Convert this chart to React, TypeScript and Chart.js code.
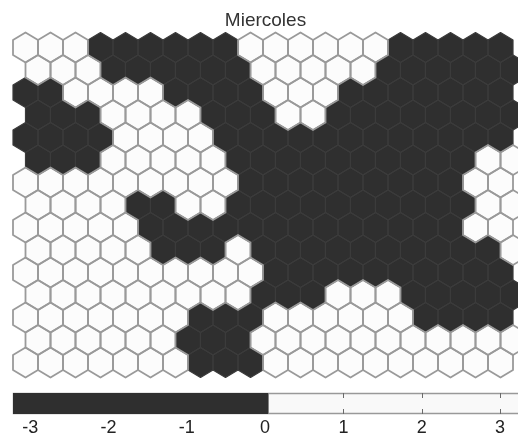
import React, { useEffect, useRef } from "react";
import { Chart, registerables } from "chart.js";

Chart.register(...registerables);

// ---------------- data ----------------
const TITLE = "Miercoles";
const N_COLS = 20;
// sign of the component value per map unit (row by row, odd rows are shifted right)
// -1 = negative (dark), 1 = positive (light)
const ROW_00 = [1, 1, 1, -1, -1, -1, -1, -1, -1, 1, 1, 1, 1, 1, 1, -1, -1, -1, -1, -1];
const ROW_01 = [1, 1, 1, -1, -1, -1, -1, -1, -1, 1, 1, 1, 1, 1, -1, -1, -1, -1, -1, -1];
const ROW_02 = [-1, -1, 1, 1, 1, 1, -1, -1, -1, -1, 1, 1, 1, -1, -1, -1, -1, -1, -1, -1];
const ROW_03 = [-1, -1, -1, 1, 1, 1, 1, -1, -1, -1, 1, 1, -1, -1, -1, -1, -1, -1, -1, -1];
const ROW_04 = [-1, -1, -1, -1, 1, 1, 1, 1, -1, -1, -1, -1, -1, -1, -1, -1, -1, -1, -1, -1];
const ROW_05 = [-1, -1, -1, 1, 1, 1, 1, 1, -1, -1, -1, -1, -1, -1, -1, -1, -1, -1, 1, 1];
const ROW_06 = [1, 1, 1, 1, 1, 1, 1, 1, 1, -1, -1, -1, -1, -1, -1, -1, -1, -1, 1, 1];
const ROW_07 = [1, 1, 1, 1, -1, -1, 1, 1, -1, -1, -1, -1, -1, -1, -1, -1, -1, -1, 1, 1];
const ROW_08 = [1, 1, 1, 1, 1, -1, -1, -1, -1, -1, -1, -1, -1, -1, -1, -1, -1, -1, 1, 1];
const ROW_09 = [1, 1, 1, 1, 1, -1, -1, -1, 1, -1, -1, -1, -1, -1, -1, -1, -1, -1, -1, 1];
const ROW_10 = [1, 1, 1, 1, 1, 1, 1, 1, 1, 1, -1, -1, -1, -1, -1, -1, -1, -1, -1, -1];
const ROW_11 = [1, 1, 1, 1, 1, 1, 1, 1, 1, -1, -1, -1, 1, 1, 1, -1, -1, -1, -1, -1];
const ROW_12 = [1, 1, 1, 1, 1, 1, 1, -1, -1, -1, 1, 1, 1, 1, 1, 1, -1, -1, -1, -1];
const ROW_13 = [1, 1, 1, 1, 1, 1, -1, -1, -1, 1, 1, 1, 1, 1, 1, 1, 1, 1, 1, 1];
const ROW_14 = [1, 1, 1, 1, 1, 1, 1, -1, -1, -1, 1, 1, 1, 1, 1, 1, 1, 1, 1, 1];
const MAP_ROWS = [
  ROW_00, ROW_01, ROW_02, ROW_03, ROW_04, ROW_05, ROW_06, ROW_07,
  ROW_08, ROW_09, ROW_10, ROW_11, ROW_12, ROW_13, ROW_14,
];

// colour bar
const CBAR_MIN = -3.22;
const CBAR_SPLIT = 0.04;
const CBAR_MAX = 3.23;
const CBAR_TICKS = [-3, -2, -1, 0, 1, 2, 3];
const CBAR_LABELS = ["-3", "-2", "-1", "0", "1", "2", "3"];

// ---------------- styles ----------------
const FONT = "'Liberation Sans', Arial, Helvetica, sans-serif";
const DARK = "#2f2f2f";
const DARK_EDGE = "#3b3b3b";
const LIGHT = "#fcfcfc";
const LIGHT_EDGE = "#9a9a9a";

const hexPlugin = {
  id: "hexCells",
  afterDatasetsDraw(chart: any) {
    const { ctx } = chart;
    const xs = chart.scales.x;
    const ys = chart.scales.y;
    const hw = Math.abs(xs.getPixelForValue(0.5) - xs.getPixelForValue(0));
    const rs = Math.abs(ys.getPixelForValue(1) - ys.getPixelForValue(0));
    const tip = (rs * 2) / 3;
    const sh = rs / 3;
    const cells: { x: number; y: number; v: number }[] = [];
    chart.data.datasets.forEach((ds: any, di: number) => {
      const meta = chart.getDatasetMeta(di);
      meta.data.forEach((el: any, i: number) => {
        cells.push({ x: el.x, y: el.y, v: ds.data[i].v });
      });
    });
    const path = (cx: number, cy: number) => {
      ctx.beginPath();
      ctx.moveTo(cx, cy - tip);
      ctx.lineTo(cx + hw, cy - sh);
      ctx.lineTo(cx + hw, cy + sh);
      ctx.lineTo(cx, cy + tip);
      ctx.lineTo(cx - hw, cy + sh);
      ctx.lineTo(cx - hw, cy - sh);
      ctx.closePath();
    };
    ctx.save();
    cells.forEach((c) => {
      path(c.x, c.y);
      ctx.fillStyle = c.v < 0 ? DARK : LIGHT;
      ctx.fill();
    });
    ctx.lineJoin = "round";
    ctx.lineWidth = 1.2;
    ctx.strokeStyle = DARK_EDGE;
    cells.filter((c) => c.v < 0).forEach((c) => { path(c.x, c.y); ctx.stroke(); });
    ctx.lineWidth = 1.8;
    ctx.strokeStyle = LIGHT_EDGE;
    cells.filter((c) => c.v >= 0).forEach((c) => { path(c.x, c.y); ctx.stroke(); });
    ctx.restore();
  },
};

const cbarPlugin = {
  id: "cbarFrame",
  afterDatasetsDraw(chart: any) {
    const { ctx, chartArea } = chart;
    const xs = chart.scales.x;
    const top = chartArea.top;
    const bottom = chartArea.bottom;
    ctx.save();
    ctx.globalCompositeOperation = "darken";
    ctx.strokeStyle = "#6a6a6a";
    ctx.lineWidth = 1;
    CBAR_TICKS.forEach((v) => {
      const px = Math.round(xs.getPixelForValue(v)) + 0.5;
      ctx.beginPath();
      ctx.moveTo(px, top);
      ctx.lineTo(px, top + 5);
      ctx.moveTo(px, bottom - 5);
      ctx.lineTo(px, bottom);
      ctx.stroke();
    });
    ctx.strokeStyle = "#999999";
    ctx.lineWidth = 1.5;
    ctx.strokeRect(
      Math.round(chartArea.left) + 0.5,
      Math.round(top) + 0.5,
      Math.round(chartArea.right - chartArea.left) + 4,
      Math.round(bottom - top) - 1
    );
    ctx.restore();
  },
};

export default function App() {
  const mapRef = useRef<HTMLCanvasElement>(null);
  const barRef = useRef<HTMLCanvasElement>(null);

  useEffect(() => {
    document.body.style.margin = "0";
    document.body.style.overflow = "hidden";

    const cells: { x: number; y: number; v: number }[] = [];
    MAP_ROWS.forEach((row, r) => {
      for (let c = 0; c < N_COLS; c++) {
        cells.push({ x: c + (r % 2 === 1 ? 0.5 : 0), y: r, v: row[c] });
      }
    });

    const mapChart = new Chart(mapRef.current!, {
      type: "scatter",
      data: {
        datasets: [
          {
            data: cells as any,
            pointRadius: 0,
            pointHoverRadius: 0,
            clip: false as any,
          },
        ],
      },
      plugins: [hexPlugin],
      options: {
        animation: false,
        responsive: false,
        events: [],
        layout: { padding: { left: 13, right: 0, top: 0, bottom: 8 } },
        plugins: {
          legend: { display: false },
          tooltip: { enabled: false },
          title: {
            display: true,
            text: TITLE,
            color: "#333333",
            font: { family: FONT, size: 19, weight: "normal" as any, lineHeight: 1.2 },
            padding: { top: 9, bottom: 1.2 },
          },
        },
        scales: {
          x: { type: "linear", min: -0.5, max: 19.7, display: false },
          y: { type: "linear", min: -0.6444, max: 14.6444, reverse: true, display: false },
        },
      },
    });

    const barChart = new Chart(barRef.current!, {
      type: "bar",
      data: {
        labels: [""],
        datasets: [
          {
            data: [[CBAR_MIN, CBAR_SPLIT]] as any,
            backgroundColor: DARK,
            borderWidth: 0,
            barPercentage: 1,
            categoryPercentage: 1,
            grouped: false,
          } as any,
          {
            data: [[CBAR_SPLIT, CBAR_MAX]] as any,
            backgroundColor: "#f9f9f9",
            borderWidth: 0,
            barPercentage: 1,
            categoryPercentage: 1,
            grouped: false,
          } as any,
        ],
      },
      plugins: [cbarPlugin],
      options: {
        indexAxis: "y",
        animation: false,
        responsive: false,
        events: [],
        layout: { padding: { left: 13, right: 0, top: 8, bottom: 0 } },
        plugins: { legend: { display: false }, tooltip: { enabled: false } },
        scales: {
          x: {
            type: "linear",
            min: CBAR_MIN,
            max: CBAR_MAX,
            grid: { display: false, drawTicks: false, tickLength: 0 },
            border: { display: false },
            afterBuildTicks: (s: any) => {
              s.ticks = CBAR_TICKS.map((v) => ({ value: v }));
            },
            afterFit: (s: any) => {
              s.height = 27;
            },
            ticks: {
              autoSkip: false,
              maxRotation: 0,
              padding: 3,
              color: "#222222",
              font: { family: FONT, size: 18, lineHeight: 1.2 },
              callback: (v: any) => {
                const i = CBAR_TICKS.indexOf(Number(v));
                return i >= 0 ? CBAR_LABELS[i] : "";
              },
            },
          },
          y: { display: false },
        },
      },
    });

    return () => {
      mapChart.destroy();
      barChart.destroy();
    };
  }, []);

  return (
    <div style={{ position: "relative", width: 518, height: 433, overflow: "hidden", background: "#ffffff" }}>
      <canvas
        ref={mapRef}
        width={518}
        height={385}
        style={{ position: "absolute", left: 0, top: 0, display: "block" }}
      />
      <canvas
        ref={barRef}
        width={518}
        height={56}
        style={{ position: "absolute", left: 0, top: 385, display: "block" }}
      />
    </div>
  );
}
